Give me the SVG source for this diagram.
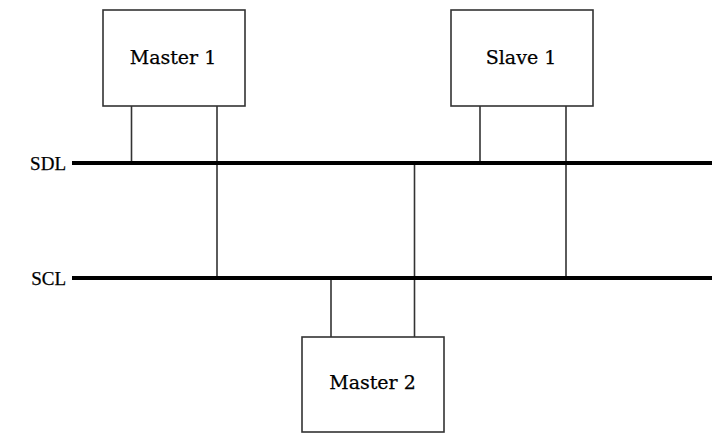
<svg xmlns="http://www.w3.org/2000/svg" width="712" height="433" viewBox="0 0 712 433">
  <style>
    .box { fill: #ffffff; stroke: #333333; stroke-width: 1.6; }
    .tap { stroke: #333333; stroke-width: 1.6; fill: none; }
    .bus { stroke: #000000; stroke-width: 4; fill: none; }
    .lbl { font-family: "DejaVu Serif", "Liberation Serif", serif; font-size: 19px; fill: #000000; stroke: #000000; stroke-width: 0.25; }
    .bus-lbl { font-family: "Liberation Serif", "DejaVu Serif", serif; font-size: 19px; text-anchor: end; }
    .mid { text-anchor: middle; }
  </style>
  <rect width="712" height="433" fill="#ffffff"/>

  <g id="connectors">
    <!-- Master 1 taps -->
    <line class="tap" x1="131.5" y1="106" x2="131.5" y2="163"/>
    <line class="tap" x1="217" y1="106" x2="217" y2="278"/>
    <!-- Slave 1 taps -->
    <line class="tap" x1="480" y1="106" x2="480" y2="163"/>
    <line class="tap" x1="566" y1="106" x2="566" y2="278"/>
    <!-- Master 2 taps -->
    <line class="tap" x1="331" y1="278" x2="331" y2="337"/>
    <line class="tap" x1="414.5" y1="163" x2="414.5" y2="337"/>
  </g>

  <g id="sdl">
    <text class="lbl bus-lbl" x="66" y="170">SDL</text>
    <line class="bus" x1="72" y1="163" x2="712" y2="163"/>
  </g>
  <g id="scl">
    <text class="lbl bus-lbl" x="66" y="285">SCL</text>
    <line class="bus" x1="72" y1="278" x2="712" y2="278"/>
  </g>

  <g id="master1">
    <rect class="box" x="103" y="10" width="142" height="96"/>
    <text class="lbl mid" x="173" y="64">Master 1</text>
  </g>
  <g id="slave1">
    <rect class="box" x="451" y="10" width="142" height="96"/>
    <text class="lbl mid" x="521" y="64">Slave 1</text>
  </g>
  <g id="master2">
    <rect class="box" x="302" y="337" width="142" height="95"/>
    <text class="lbl mid" x="372.5" y="389">Master 2</text>
  </g>
</svg>
